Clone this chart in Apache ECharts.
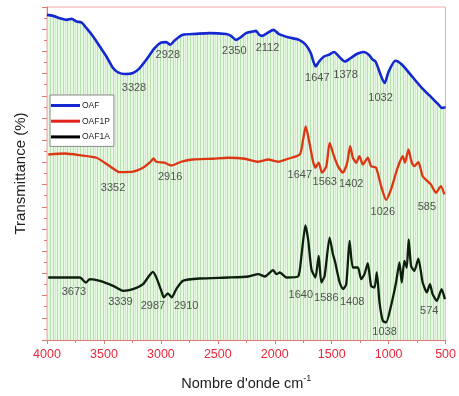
<!DOCTYPE html>
<html><head><meta charset="utf-8">
<script src="https://cdn.jsdelivr.net/npm/echarts@6/dist/echarts.min.js"></script>
<style>html,body{margin:0;padding:0;background:#fff}#c{width:459px;height:396px}</style>
</head><body><div id="c"></div>
<script>
// Wavenumbers (cm-1) and transmittance (arbitrary offset units)
const oafX = [4000,3945,3886,3828,3784,3740,3697,3653,3595,3536,3478,3420,3376,3317,3245,3186,3128,3055,2996,2953,2918,2880,2807,2690,2574,2428,2384,2340,2297,2253,2195,2165,2136,2112,2067,2011,1961,1874,1786,1728,1684,1640,1611,1568,1524,1480,1436,1384,1334,1276,1218,1174,1145,1115,1071,1036,999,940,882,795,707,620,561,532,500];
const oafY = [29.29,29.2,28.99,28.84,28.93,28.69,28.6,28.09,27.34,26.44,25.54,24.5,24.11,23.96,24.05,24.5,25.25,26.3,26.8,26.84,26.6,26.98,27.49,27.58,27.65,27.56,27.4,27.04,27.29,27.65,27.79,27.85,27.49,27.4,27.65,27.94,27.56,27.25,27.04,26.6,25.85,24.65,25.09,25.54,25.7,25.94,25.54,25.09,25.4,25.79,25.94,25.7,25.31,25.09,23.9,23.15,24.2,25.16,24.8,23.75,22.7,21.81,21.2,20.91,20.96];

const oaf1pX = [3989,3843,3711,3565,3449,3361,3245,3157,3099,3064,3040,2967,2909,2821,2720,2545,2408,2261,2145,2058,1970,1883,1780,1751,1728,1701,1664,1643,1614,1585,1547,1518,1480,1445,1401,1364,1338,1314,1285,1256,1226,1183,1154,1110,1066,1022,979,935,905,876,856,826,797,774,739,701,658,629,585,541,511];
const oaf1pY = [16.71,16.8,16.65,16.42,15.66,15.12,15.16,15.52,15.97,16.35,16.06,15.97,15.72,16.06,16.26,16.33,16.42,16.33,16.06,16.26,16.06,16.33,16.71,18.06,19.25,18.06,16.11,15.52,15.97,15.07,15.66,17.76,16.56,15.66,15.07,15.97,17.46,16.42,15.97,16.56,15.81,16.42,15.66,15.52,13.86,12.62,13.57,15.07,15.97,16.56,15.97,17.16,15.97,15.66,16.02,14.76,14.31,14.02,13.27,13.86,13.12];

const oaf1aX = [3989,3828,3711,3659,3624,3536,3420,3332,3245,3157,3099,3070,3040,2996,2974,2939,2904,2865,2807,2661,2408,2232,2145,2086,2014,1985,1955,1897,1795,1766,1731,1707,1678,1643,1614,1591,1562,1518,1489,1469,1430,1401,1372,1343,1314,1270,1241,1212,1183,1154,1124,1104,1080,1051,1022,979,935,905,885,862,841,824,803,774,739,701,664,637,614,576,535,506];
const oaf1aY = [5.63,5.63,5.63,5.18,5.48,5.33,4.88,4.43,4.58,5.03,5.84,6.14,5.63,4.43,3.84,4.2,3.84,4.58,5.33,5.54,5.63,5.72,5.93,5.72,6.29,5.93,6.08,5.63,5.72,7.57,10.33,9.07,6.38,5.63,7.57,5.18,5.78,9.23,7.73,6.98,5.18,4.58,5.03,8.92,6.53,6.53,5.48,5.93,6.92,4.88,4.73,6.08,3.39,1.73,1.59,3.08,5.18,6.98,5.18,7.12,6.53,9.07,6.68,6.23,7.34,5.18,4.29,5.03,4.13,3.53,4.58,3.68];

// Peak annotations: text, x (cm-1), y
const peakText = ['3328','2928','2350','2112','1647','1378','1032',
                  '3352','2916','1647','1563','1402','1026','585',
                  '3673','3339','2987','2910','1640','1586','1408','1038','574'];
const peakX = [3236,2939,2355,2064,1626,1378,1071,
               3420,2918,1780,1561,1329,1051,664,
               3764,3355,3070,2778,1771,1547,1320,1036,643];
const peakY = [22.7,25.7,26.0,26.3,23.6,23.9,21.8,
               13.7,14.7,14.9,14.2,14.1,11.5,12.0,
               4.3,3.4,3.1,3.1,4.1,3.8,3.4,0.75,2.6];

const xTicks = [4000,3500,3000,2500,2000,1500,1000,500];

function zip(a,b){return a.map((v,i)=>[v,b[i]]);}

// vertical stripe pattern for the fill under the top curve
const pc = document.createElement('canvas');
pc.width = 10; pc.height = 4;
const g = pc.getContext('2d');
g.fillStyle = '#e8f8e4'; g.fillRect(0,0,10,4);
g.fillStyle = '#b2e4aa';
g.fillRect(0,0,1,4); g.fillRect(3,0,1,4); g.fillRect(7,0,1,4);
g.fillStyle = '#cdeec6'; g.fillRect(5,0,1,4);

const axisRed = '#e07a7a';
const chart = echarts.init(document.getElementById('c'));
chart.setOption({
  animation:false,
  textStyle:{fontFamily:'"Liberation Sans", Arial, sans-serif'},
  grid:{left:47,right:12.5,top:7,bottom:55,show:true,borderColor:'#f0a8a8',borderWidth:1,backgroundColor:'transparent'},
  legend:{
    data:['OAF','OAF1P','OAF1A'],
    orient:'vertical', left:50, top:95,
    backgroundColor:'#fff', borderColor:'#8a8a8a', borderWidth:1,
    padding:[6,4,5,1], itemGap:6.7, itemWidth:29, itemHeight:3,
    icon:'rect',
    textStyle:{fontSize:8.5,color:'#222',padding:[0,0,0,-3]}
  },
  xAxis:{
    type:'value', inverse:true, min:500, max:4000, interval:500,
    axisLine:{lineStyle:{color:axisRed,width:1}},
    axisTick:{length:4,lineStyle:{color:axisRed}},
    minorTick:{show:true,splitNumber:2,length:3,lineStyle:{color:axisRed}},
    splitLine:{show:false},
    axisLabel:{color:'#e8283c',fontSize:12.5,margin:8,formatter:v=>xTicks.includes(v)?String(v):''},
    name:'{a|Nombre d\'onde cm}{s|-1}', nameLocation:'middle', nameGap:34,
    nameTextStyle:{rich:{a:{fontSize:14.5,color:'#222'},s:{fontSize:9,color:'#222',verticalAlign:'top',padding:[0,0,10,0]}}}
  },
  yAxis:{
    type:'value', min:0, max:30, interval:2,
    axisLine:{show:true,lineStyle:{color:axisRed,width:1}},
    axisTick:{show:true,length:5,lineStyle:{color:axisRed}},
    minorTick:{show:true,splitNumber:2,length:3,lineStyle:{color:axisRed}},
    splitLine:{show:false},
    axisLabel:{show:false},
    name:'Transmittance (%)', nameLocation:'middle', nameGap:19,
    nameTextStyle:{fontSize:15,color:'#222'}
  },
  series:[
    {name:'OAF',type:'line',data:zip(oafX,oafY),showSymbol:false,smooth:0.25,
     lineStyle:{color:'#1428d2',width:2.6},itemStyle:{color:'#1428d2'},
     areaStyle:{color:{image:pc,repeat:'repeat'},opacity:1},z:2},
    {name:'OAF1P',type:'line',data:zip(oaf1pX,oaf1pY),showSymbol:false,smooth:0.2,
     lineStyle:{color:'#dc3614',width:2.3},itemStyle:{color:'#e0241c'},z:3},
    {name:'OAF1A',type:'line',data:zip(oaf1aX,oaf1aY),showSymbol:false,smooth:0.2,
     lineStyle:{color:'#0d200d',width:2.3},itemStyle:{color:'#000'},z:3},
    {type:'scatter',data:peakX.map((x,i)=>({value:[x,peakY[i]],name:peakText[i]})),
     symbolSize:0,silent:true,z:5,
     label:{show:true,position:'inside',formatter:p=>p.name,fontSize:11,color:'#2a2a2a'}}
  ]
});
</script></body></html>
